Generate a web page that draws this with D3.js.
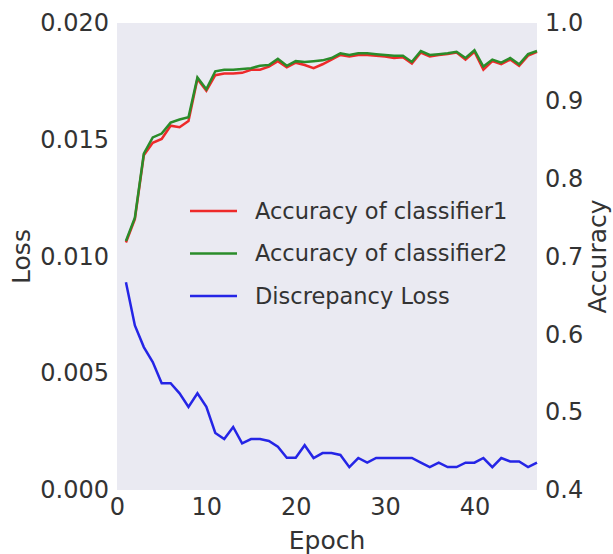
<!DOCTYPE html>
<html>
<head>
<meta charset="utf-8">
<script src="https://cdn.jsdelivr.net/npm/d3@7"></script>
<style>
  body { margin: 0; background: #fff; }
  text { font-family: "DejaVu Sans", sans-serif; fill: #333; }
</style>
</head>
<body>
<div id="chart"></div>
<script>
// epochs 1..47
const epochs = d3.range(1, 48);

const accClassifier1 = [0.718, 0.748, 0.830, 0.846, 0.851, 0.868, 0.866, 0.874, 0.928, 0.913,
  0.933, 0.935, 0.935, 0.936, 0.940, 0.940, 0.944, 0.951, 0.943, 0.949,
  0.946, 0.942, 0.947, 0.953, 0.959, 0.957, 0.959, 0.959, 0.958, 0.957,
  0.955, 0.956, 0.948, 0.962, 0.957, 0.959, 0.960, 0.962, 0.953, 0.963,
  0.940, 0.951, 0.947, 0.953, 0.945, 0.958, 0.963];

const accClassifier2 = [0.720, 0.750, 0.832, 0.853, 0.858, 0.872, 0.876, 0.879, 0.930, 0.915,
  0.938, 0.940, 0.940, 0.941, 0.942, 0.945, 0.946, 0.954, 0.945, 0.951,
  0.950, 0.951, 0.952, 0.955, 0.961, 0.959, 0.961, 0.961, 0.960, 0.959,
  0.958, 0.958, 0.950, 0.964, 0.959, 0.960, 0.961, 0.963, 0.955, 0.965,
  0.944, 0.953, 0.949, 0.955, 0.947, 0.960, 0.964];

const discrepancyLoss = [0.0089, 0.00705, 0.00612, 0.00548, 0.00457, 0.00457, 0.00414, 0.00356, 0.00414, 0.00356,
  0.00244, 0.00218, 0.0027, 0.0020, 0.00218, 0.00218, 0.0021, 0.00185, 0.00138, 0.00138,
  0.00192, 0.00137, 0.00158, 0.00158, 0.0015, 0.00098, 0.00137, 0.00117, 0.00137, 0.00137,
  0.00137, 0.00137, 0.00137, 0.00117, 0.00098, 0.00117, 0.00098, 0.00098, 0.00117, 0.00117,
  0.00137, 0.00098, 0.00137, 0.00122, 0.00122, 0.00098, 0.00117];

const xTicks = [0, 10, 20, 30, 40];
const lossTicks = [0, 0.005, 0.010, 0.015, 0.020];
const accTicks = [0.4, 0.5, 0.6, 0.7, 0.8, 0.9, 1.0];

const seriesNames = ["Accuracy of classifier1", "Accuracy of classifier2", "Discrepancy Loss"];
const seriesColors = ["#ee2a2a", "#2a8c2a", "#2525e6"];

const width = 613, height = 554;
const margin = { top: 23, right: 76, bottom: 64, left: 117 };
const innerW = width - margin.left - margin.right;
const innerH = height - margin.top - margin.bottom;

const svg = d3.select('#chart').append('svg')
  .attr('width', width)
  .attr('height', height);

const g = svg.append('g')
  .attr('transform', `translate(${margin.left},${margin.top})`);

const x = d3.scaleLinear().domain([0, 47]).range([0, innerW]);
const yLoss = d3.scaleLinear().domain([0, 0.020]).range([innerH, 0]);
const yAcc = d3.scaleLinear().domain([0.4, 1.0]).range([innerH, 0]);

// plot background
g.append('rect')
  .attr('width', innerW)
  .attr('height', innerH)
  .attr('fill', '#eaeaf2');

// axes
const xAxis = g.append('g')
  .attr('transform', `translate(0,${innerH})`)
  .call(d3.axisBottom(x).tickValues(xTicks).tickSize(0).tickPadding(8));

const leftAxis = g.append('g')
  .call(d3.axisLeft(yLoss).tickValues(lossTicks).tickSize(0).tickPadding(8).tickFormat(d3.format('.3f')));

const rightAxis = g.append('g')
  .attr('transform', `translate(${innerW},0)`)
  .call(d3.axisRight(yAcc).tickValues(accTicks).tickSize(0).tickPadding(8).tickFormat(d3.format('.1f')));

[xAxis, leftAxis, rightAxis].forEach(a => {
  a.select('.domain').remove();
  a.selectAll('text').style('font-size', '24px').attr('fill', '#333');
});

// lines
const accLine = d3.line().x((d, i) => x(epochs[i])).y(d => yAcc(d));
const lossLine = d3.line().x((d, i) => x(epochs[i])).y(d => yLoss(d));

g.append('path').datum(accClassifier1)
  .attr('fill', 'none').attr('stroke', seriesColors[0]).attr('stroke-width', 2.5)
  .attr('d', accLine);

g.append('path').datum(accClassifier2)
  .attr('fill', 'none').attr('stroke', seriesColors[1]).attr('stroke-width', 2.5)
  .attr('d', accLine);

g.append('path').datum(discrepancyLoss)
  .attr('fill', 'none').attr('stroke', seriesColors[2]).attr('stroke-width', 2.5)
  .attr('d', lossLine);

// axis labels
svg.append('text')
  .attr('transform', `translate(30,${margin.top + innerH / 2}) rotate(-90)`)
  .attr('text-anchor', 'middle')
  .style('font-size', '25px')
  .text('Loss');

svg.append('text')
  .attr('transform', `translate(606,${margin.top + innerH / 2}) rotate(-90)`)
  .attr('text-anchor', 'middle')
  .style('font-size', '25px')
  .text('Accuracy');

svg.append('text')
  .attr('x', margin.left + innerW / 2)
  .attr('y', 549)
  .attr('text-anchor', 'middle')
  .style('font-size', '25px')
  .text('Epoch');

// legend
const legend = g.append('g')
  .attr('transform', 'translate(73,188)');

seriesNames.forEach((name, i) => {
  const row = legend.append('g').attr('transform', `translate(0,${i * 42.5})`);
  row.append('line')
    .attr('x1', 0).attr('x2', 47)
    .attr('stroke', seriesColors[i]).attr('stroke-width', 2.5);
  row.append('text')
    .attr('x', 65)
    .attr('dy', '0.35em')
    .style('font-size', '22.5px')
    .text(name);
});
</script>
</body>
</html>
